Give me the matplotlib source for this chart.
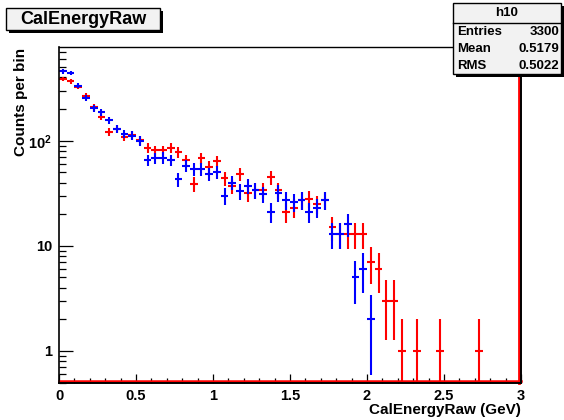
import numpy as np
import matplotlib
matplotlib.use('Agg')
import matplotlib.pyplot as plt
from matplotlib.patches import Rectangle
from matplotlib.lines import Line2D
import matplotlib.transforms as mtransforms
from matplotlib.ticker import MultipleLocator, FixedLocator, FixedFormatter, LogLocator, NullFormatter

plt.rcParams['font.family'] = ['Liberation Sans', 'DejaVu Sans']
plt.rcParams['font.weight'] = 'bold'
plt.rcParams['mathtext.fontset'] = 'custom'
plt.rcParams['mathtext.rm'] = 'Liberation Sans:bold'
plt.rcParams['mathtext.it'] = 'Liberation Sans:bold'
plt.rcParams['mathtext.bf'] = 'Liberation Sans:bold'

# ---------------- data ----------------
x_min, x_max, n_bins = 0.0, 3.0, 60
red_counts = [387, 367, 327, 266, 208, 169, 122, 129, 109, 114,
              102, 85, 81, 81, 85, 78, 65, 39, 68, 56,
              64, 44, 37, 48, 32, 34, 34, 45, 34, 21,
              23, 27, 28, 25, 27, 15, 13, 13, 13, 13,
              7, 6, 3, 3, 1, 0, 1, 0, 0, 1,
              0, 0, 0, 0, 1, 0, 0, 0, 0, 0]
blue_counts = [457, 444, 334, 255, 203, 186, 157, 129, 117, 112,
               100, 65, 68, 69, 65, 43, 58, 54, 54, 48,
               50, 30, 40, 33, 37, 34, 31, 21, 32, 27,
               26, 27, 21, 23, 27, 13, 13, 16, 5, 6,
               2, 0, 0, 0, 0, 0, 0, 0, 0, 0,
               0, 0, 0, 0, 0, 0, 0, 0, 0, 0]
x_ticks = [0, 0.5, 1, 1.5, 2, 2.5, 3]
x_tick_labels = ['0', '0.5', '1', '1.5', '2', '2.5', '3']
y_ticks = [1, 10, 100]
y_tick_labels = ['1', '10', r'$10^{2}$']
hist_title = 'CalEnergyRaw'
x_title = 'CalEnergyRaw (GeV)'
y_title = 'Counts per bin'
stats_name = 'h10'
stats_rows = [('Entries', '3300'), ('Mean', '0.5179'), ('RMS', '0.5022')]

W, H = 564, 420
fig = plt.figure(figsize=(W / 100, H / 100), dpi=100)
fig.patch.set_facecolor('white')

def fx(px):
    return px / W

def fy(py):
    return 1 - py / H

ax_l, ax_r, ax_t, ax_b = 59, 521, 47, 382.5
ax = fig.add_axes([fx(ax_l), fy(ax_b), (ax_r - ax_l) / W, (ax_b - ax_t) / H])
ax.set_facecolor('white')
ax.set_yscale('log')
ax.set_xlim(x_min, x_max)
ax.set_ylim(0.5, 780)

edges = np.linspace(x_min, x_max, n_bins + 1)
centers = 0.5 * (edges[:-1] + edges[1:])
half = 0.5 * (edges[1] - edges[0])

def draw(counts, color, z):
    c = np.asarray(counts, dtype=float)
    m = c > 0
    y = c[m]
    up = np.sqrt(y)
    lo = y - np.maximum(y - np.sqrt(y), 1e-3)
    ax.errorbar(centers[m], y, xerr=half, yerr=[lo, up], fmt='none',
                ecolor=color, elinewidth=1.5, capsize=0, zorder=z)

draw(red_counts, '#ff0000', 3)
draw(blue_counts, '#0000ff', 4)

# red histogram edges at bottom and right
off_up = mtransforms.offset_copy(ax.transData, fig=fig, x=0, y=2.0, units='dots')
off_left = mtransforms.offset_copy(ax.transData, fig=fig, x=-1.6, y=0, units='dots')
ax.plot([x_min, x_max], [0.5, 0.5], color='#ff0000', lw=1.8, transform=off_up, clip_on=False, zorder=5)
ax.plot([x_max, x_max], [0.5, 780], color='#ff0000', lw=2.0, transform=off_left, clip_on=False, zorder=5)

for s in ['left', 'bottom', 'right', 'top']:
    ax.spines[s].set_color('black')
    ax.spines[s].set_linewidth(1.0)
    ax.spines[s].set_zorder(6)
ax.spines['left'].set_linewidth(1.2)
ax.spines['bottom'].set_linewidth(1.4)
ax.spines['right'].set_linewidth(1.4)

ax.xaxis.set_major_locator(FixedLocator(x_ticks))
ax.xaxis.set_major_formatter(FixedFormatter(x_tick_labels))
ax.xaxis.set_minor_locator(MultipleLocator(0.1))
ax.yaxis.set_major_locator(FixedLocator(y_ticks))
ax.yaxis.set_major_formatter(FixedFormatter(y_tick_labels))
ax.yaxis.set_minor_locator(LogLocator(base=10, subs=np.arange(2, 10), numticks=20))
ax.yaxis.set_minor_formatter(NullFormatter())

ax.tick_params(axis='x', which='major', direction='in', length=6.5, width=0.9, pad=5,
               labelsize=10.5, top=False, bottom=True)
ax.tick_params(axis='x', which='minor', direction='in', length=3.3, width=0.9, top=False, bottom=True)
ax.tick_params(axis='y', which='major', direction='in', length=10, width=0.9, pad=5,
               labelsize=10.5, right=False, left=True)
ax.tick_params(axis='y', which='minor', direction='in', length=5, width=0.9, right=False, left=True)
for lab in ax.get_xticklabels() + ax.get_yticklabels():
    lab.set_fontweight('bold')

# axis titles
fig.text(fx(521), fy(410), x_title, ha='right', va='center', fontsize=11, fontweight='bold')
fig.text(fx(21), fy(48), y_title, ha='center', va='top', rotation=90, fontsize=11, fontweight='bold')

# title box
def box(x0, y0, x1, y1, shadow=3):
    fig.add_artist(Rectangle((fx(x0 + shadow), fy(y1 + shadow)), (x1 - x0) / W, (y1 - y0) / H,
                             transform=fig.transFigure, facecolor='black', edgecolor='black',
                             lw=0, zorder=10))
    fig.add_artist(Rectangle((fx(x0), fy(y1)), (x1 - x0) / W, (y1 - y0) / H,
                             transform=fig.transFigure, facecolor='#f2f2f2', edgecolor='black',
                             lw=1.0, zorder=11))

box(6, 8, 160, 30)
fig.text(fx(83), fy(19.5), hist_title, ha='center', va='center', fontsize=13, fontweight='bold', zorder=12)

# stats box
box(453, 3, 561, 74)
fig.text(fx(507), fy(13.3), stats_name, ha='center', va='center', fontsize=9.5, fontweight='bold', zorder=12)
fig.add_artist(Line2D([fx(453), fx(561)], [fy(22.7), fy(22.7)], transform=fig.transFigure,
                      color='black', lw=1.0, zorder=12))
row_y = [32.3, 49.5, 66.0]
for (name, val), yy in zip(stats_rows, row_y):
    fig.text(fx(457), fy(yy), name, ha='left', va='center', fontsize=9.5, fontweight='bold', zorder=12)
    fig.text(fx(559), fy(yy), val, ha='right', va='center', fontsize=9.5, fontweight='bold', zorder=12)

fig.savefig('out.png', dpi=100)
